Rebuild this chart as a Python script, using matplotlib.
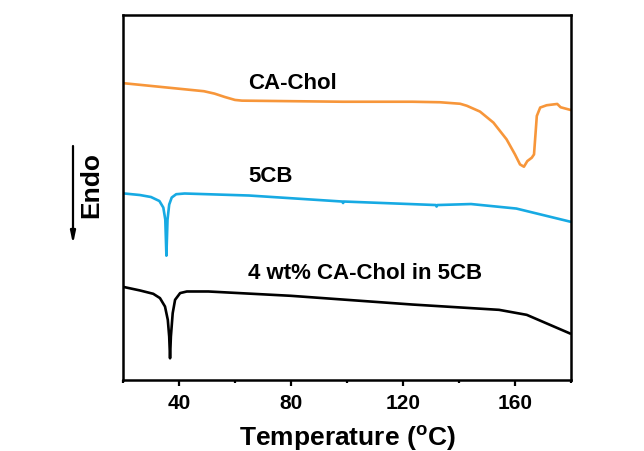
import numpy as np
import matplotlib
matplotlib.use('Agg')
import matplotlib.pyplot as plt

plt.rcParams['font.family'] = ['Liberation Sans', 'DejaVu Sans']
plt.rcParams['font.weight'] = 'bold'
plt.rcParams['mathtext.fontset'] = 'custom'
plt.rcParams['mathtext.rm'] = 'Liberation Sans:bold'
plt.rcParams['mathtext.it'] = 'Liberation Sans:bold'
plt.rcParams['mathtext.default'] = 'rm'

# CA-Chol trace (temperature, heat flow a.u.)
chol_T = [20.2, 48.9, 52.7, 56.4, 60.0, 62.5, 98.6, 123.4, 133.2, 140.4, 142.8, 147.5,
          152.3, 157.0, 160.0, 161.8, 163.2, 164.4, 166.0, 166.8, 167.8, 169.0, 171.3,
          175.1, 176.3, 179.6]
chol_H = [296, 288, 285.6, 282.2, 279.3, 278.6, 277.5, 277.5, 277, 275.5, 273.5, 267.7,
          256.7, 240, 225, 215, 212.7, 218.3, 221.7, 225, 263.3, 271.7, 274,
          275.3, 272, 269.5]

# 5CB trace
cb_T = [20.5, 26.0, 30.0, 33.0, 34.4, 35.1, 35.5, 35.9, 36.5, 37.4, 39.0, 42.0, 65.0,
        98.3, 98.6, 98.9, 131.7, 132.0, 132.3, 144.3, 160.5, 179.6]
cb_H = [186, 184.5, 182.5, 178.5, 172, 160, 124, 160, 175, 182, 185.3, 186, 184,
        178, 176.5, 178, 174.5, 173, 174.5, 175.5, 171, 158]

# 4 wt% CA-Chol in 5CB trace
mix_T = [20.4, 26.1, 30.8, 33.2, 35.0, 36.0, 36.5, 36.8, 37.1, 37.75, 38.6, 40.4,
         42.8, 50.5, 79.9, 123.3, 154.3, 164.2, 179.6]
mix_H = [92.7, 89.3, 86, 81.7, 73.3, 60, 43.3, 21.7, 43.3, 66.7, 80, 86.7,
         88.3, 88.3, 84, 75.3, 70, 65, 46.5]

labels = ['CA-Chol', '5CB', '4 wt% CA-Chol in 5CB']
label_y = [291.5, 198, 101.5]

fig = plt.figure(figsize=(6.44, 4.52), dpi=100)
ax = fig.add_axes([0.191, 0.157, 0.6956, 0.8076])

ax.plot(chol_T, chol_H, color='#F7963A', lw=1.9)
ax.plot(cb_T, cb_H, color='#17AAE3', lw=1.9)
ax.plot(mix_T, mix_H, color='black', lw=1.9)

for s, yv in zip(labels, label_y):
    ax.text(64.6, yv, s, fontsize=16, fontweight='bold', ha='left', va='baseline')

ax.set_xlim(20, 180)
ax.set_ylim(0, 364)
ax.set_xticks([40, 80, 120, 160])
ax.set_xticks([20, 60, 100, 140, 180], minor=True)
ax.set_yticks([])
ax.tick_params(axis='x', which='major', length=4, width=1.6, labelsize=15, pad=5)
ax.tick_params(axis='x', which='minor', length=2.5, width=1.6)
for sp in ax.spines.values():
    sp.set_linewidth(1.8)

ax.set_xlabel(r'Temperature ($^{o}$C)', fontsize=19, fontweight='bold', labelpad=8)

# Endo arrow and label
ax.annotate('', xy=(73 / 644, 1 - 245 / 452), xytext=(73 / 644, 1 - 147 / 452),
            xycoords='figure fraction', textcoords='figure fraction',
            arrowprops=dict(arrowstyle='-|>,head_length=0.7,head_width=0.15', color='black',
                            lw=1.6, shrinkA=0, shrinkB=0))
fig.text(91 / 644, 1 - 185 / 452, 'Endo', rotation=90, fontsize=19, fontweight='bold',
         ha='center', va='center')

fig.savefig('out.png', dpi=100)
